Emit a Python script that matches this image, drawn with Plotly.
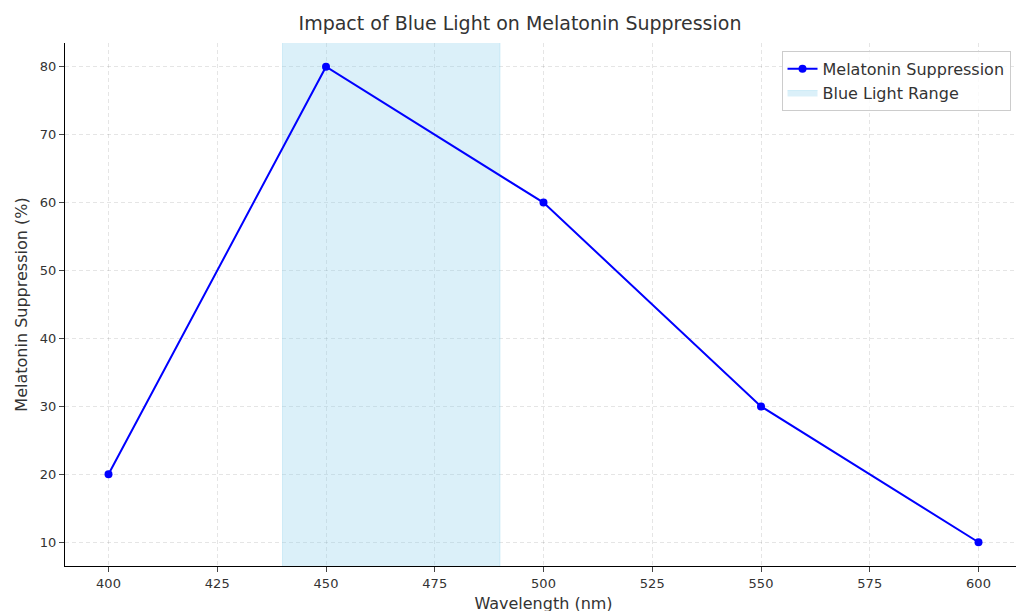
import plotly.graph_objects as go

# Daten
wavelength = [400, 450, 500, 550, 600]
suppression = [20, 80, 60, 30, 10]
blue_range = [440, 490]

fig = go.Figure()

# Blaulicht-Bereich als Legendeneintrag (Fläche)
fig.add_trace(go.Scatter(
    x=[blue_range[0], blue_range[1], blue_range[1], blue_range[0], blue_range[0]],
    y=[0, 0, 100, 100, 0],
    fill="toself", fillcolor="rgba(135,206,235,0.3)",
    line=dict(color="rgba(135,206,235,0.3)", width=1),
    mode="lines", name="Blue Light Range", hoverinfo="skip",
))

fig.add_trace(go.Scatter(
    x=wavelength, y=suppression, mode="lines+markers",
    name="Melatonin Suppression",
    line=dict(color="blue", width=2), marker=dict(color="blue", size=8),
))

axis_style = dict(
    showgrid=True, gridcolor="rgba(0,0,0,0.1)", griddash="4px,3px",
    showline=True, linecolor="black", mirror=False, ticks="outside",
    zeroline=False, tickfont=dict(size=13, color="#333"), automargin=False,
)

fig.update_layout(
    width=1024, height=611, plot_bgcolor="white", paper_bgcolor="white",
    font=dict(family="DejaVu Sans", color="#333"),
    margin=dict(l=57, r=10, t=35, b=53),
    title=dict(text="Impact of Blue Light on Melatonin Suppression", x=0.5, y=0.985,
               xanchor="center", yanchor="top", font=dict(size=19)),
    xaxis=dict(title=dict(text="Wavelength (nm)", font=dict(size=16), standoff=8),
               range=[390, 610], tickvals=list(range(400, 601, 25)), **axis_style),
    yaxis=dict(title=dict(text="Melatonin Suppression (%)", font=dict(size=16), standoff=8),
               range=[6.5, 83.5], tickvals=list(range(10, 81, 10)), **axis_style),
    legend=dict(x=0.988, y=0.985, xanchor="right", yanchor="top",
                bgcolor="rgba(255,255,255,0.8)", bordercolor="#ccc", borderwidth=1,
                font=dict(size=16), traceorder="reversed"),
)

fig.write_html("out.html")
